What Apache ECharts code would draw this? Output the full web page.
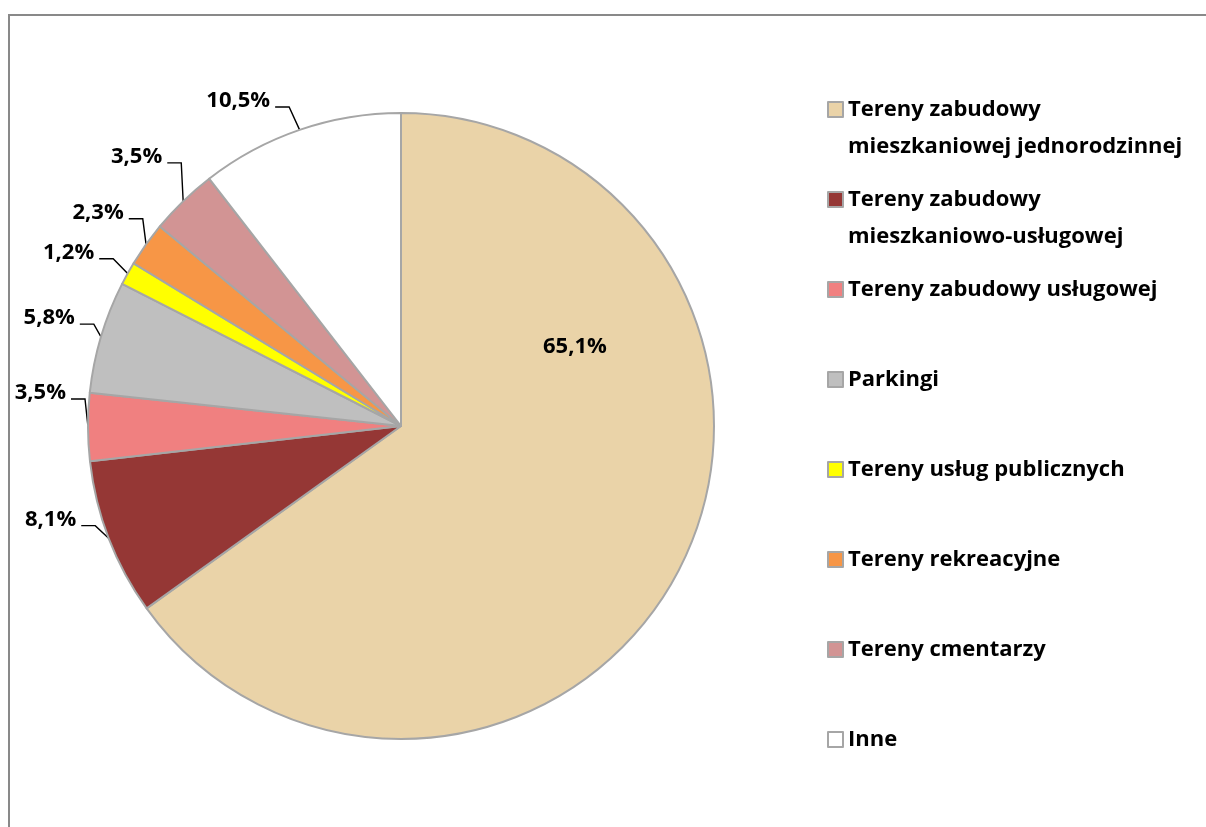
<!DOCTYPE html>
<html>
<head>
<meta charset="utf-8">
<script src="https://cdn.jsdelivr.net/npm/echarts@6/dist/echarts.min.js"></script>
<style>
  html, body { margin: 0; padding: 0; background: #ffffff; }
  #chart { width: 1206px; height: 827px; }
</style>
</head>
<body>
<div id="chart"></div>
<script>
// Land-use categories, in slice order (clockwise from 12 o'clock)
const categories = [
  'Tereny zabudowy mieszkaniowej jednorodzinnej',
  'Tereny zabudowy mieszkaniowo-usługowej',
  'Tereny zabudowy usługowej',
  'Parkingi',
  'Tereny usług publicznych',
  'Tereny rekreacyjne',
  'Tereny cmentarzy',
  'Inne'
];

// Share of total area, %
const shares = [65.1, 8.1, 3.5, 5.8, 1.2, 2.3, 3.5, 10.5];

// Legend text, wrapped the way it is printed
const legendText = [
  'Tereny zabudowy\nmieszkaniowej jednorodzinnej',
  'Tereny zabudowy\nmieszkaniowo-usługowej',
  'Tereny zabudowy usługowej',
  'Parkingi',
  'Tereny usług publicznych',
  'Tereny rekreacyjne',
  'Tereny cmentarzy',
  'Inne'
];

const sliceColors = [
  '#EAD3A8', '#953735', '#F08080', '#BFBFBF',
  '#FFFF00', '#F79646', '#D29494', '#FFFFFF'
];

const FONT = '"Open Sans", Lato, sans-serif';
const LINE_H = 37;
const NBSP = '\u00a0';

const fmtPct = v => v.toFixed(1).replace('.', ',') + '%';

// Each legend entry is three lines tall: a blank line above the first text line,
// so the swatch (centred on the block) sits level with the first line of text.
function legendBlock(name) {
  const lines = legendText[categories.indexOf(name)].split('\n');
  return [NBSP, lines[0], lines.length > 1 ? lines[1] : NBSP].join('\n');
}

// Offsets that lift the outside labels clear of each other (and move the big one up)
const labelNudge = [
  [32, -152], [4, -26], [16, -34], [11, -13],
  [2, -11], [12, -20], [11, -30], [-5, -10]
];

// Leader line: from the slice's edge point, to a bend level with the label,
// then a short horizontal run ending just right of the label text.
function leaderPoints(edge, rect) {
  const endX = rect.x + rect.width + 5;
  const y = rect.y + rect.height / 2 + 6;
  const bendX = Math.min(endX + 14, edge[0]);
  return [edge, [bendX, y], [endX, y]];
}

const chart = echarts.init(document.getElementById('chart'), null, { renderer: 'canvas' });

const pieData = categories.map((name, i) => {
  const item = { name: name, value: shares[i], itemStyle: { color: sliceColors[i] } };
  if (i === 0) {
    item.label = { position: 'inside' };
  }
  return item;
});

const option = {
  backgroundColor: '#ffffff',
  animation: false,
  graphic: [{
    type: 'rect',
    silent: true,
    z: -10,
    shape: { x: 9, y: 15, width: 1300, height: 900 },
    style: { fill: 'none', stroke: '#898989', lineWidth: 2 }
  }],
  legend: {
    orient: 'vertical',
    left: 827,
    top: 54,
    padding: 0,
    itemGap: 90 - 3 * LINE_H,
    itemWidth: 15,
    itemHeight: 15,
    icon: 'rect',
    selectedMode: false,
    data: categories,
    formatter: legendBlock,
    itemStyle: { borderColor: '#A6A6A6', borderWidth: 2 },
    textStyle: {
      fontFamily: FONT,
      fontWeight: 'bold',
      fontSize: 22,
      color: '#000000',
      lineHeight: LINE_H
    }
  },
  series: [{
    type: 'pie',
    center: [401, 426],
    radius: 313,
    startAngle: 90,
    clockwise: true,
    avoidLabelOverlap: true,
    itemStyle: { borderColor: '#A6A6A6', borderWidth: 2 },
    emphasis: { disabled: true },
    label: {
      show: true,
      position: 'outside',
      formatter: p => fmtPct(p.value),
      fontFamily: FONT,
      fontWeight: 'bold',
      fontSize: 22,
      color: '#000000',
      overflow: 'none',
      distanceToLabelLine: 4
    },
    labelLine: {
      show: true,
      length: 20,
      length2: 14,
      lineStyle: { color: '#000000', width: 1.4 }
    },
    labelLayout: function (params) {
      const n = labelNudge[params.dataIndex];
      const out = { dx: n[0], dy: n[1] };
      const pts = params.labelLinePoints;
      if (pts && pts.length) {
        const r = params.labelRect;
        const moved = { x: r.x + n[0], y: r.y + n[1], width: r.width, height: r.height };
        out.labelLinePoints = leaderPoints(pts[0], moved);
      }
      return out;
    },
    data: pieData
  }]
};

chart.setOption(option);
</script>
</body>
</html>
